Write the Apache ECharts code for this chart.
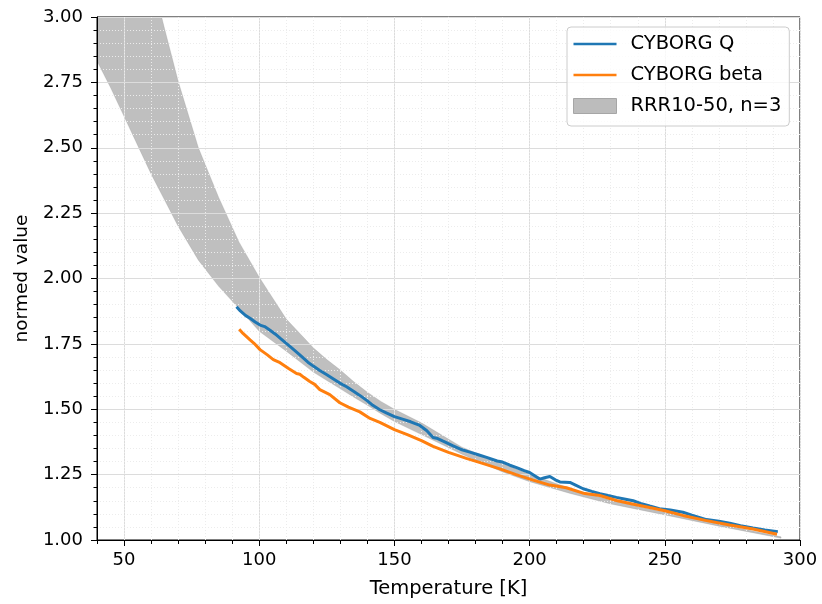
<!DOCTYPE html>
<html>
<head>
<meta charset="utf-8">
<script src="https://cdn.jsdelivr.net/npm/echarts@6.0.0/dist/echarts.min.js"></script>
<style>
  html, body { margin: 0; padding: 0; background: #fff; }
  #chart { width: 822px; height: 604px; }
</style>
</head>
<body>
<div id="chart"></div>
<script>
// CYBORG Q measurement (temperature in K, normed value)
var qT = [91.6, 93, 95, 96.6, 98.5, 100.3, 102, 104, 106, 107.7,
          110, 112, 115, 118, 120, 122.4, 125, 127.6, 129.8, 132.3,
          135, 137.2, 140, 142, 144.6, 147, 150, 153, 156, 159.4,
          162, 164.3, 166, 168, 171.7, 175, 177.9, 181, 184.1, 188,
          190, 192.7, 195.2, 198, 200, 202, 203.8, 205.5, 207.5, 209.5,
          211.2, 214.9, 217, 219.8, 223, 226, 229, 232.1, 235, 238.3,
          241, 244.4, 248, 252, 256.7, 260, 265.4, 270, 274, 278,
          282.6, 287, 291.8];
var qV = [1.892, 1.876, 1.858, 1.848, 1.834, 1.822, 1.816, 1.802, 1.787, 1.772,
          1.752, 1.735, 1.708, 1.68, 1.665, 1.648, 1.632, 1.615, 1.6, 1.586,
          1.568, 1.553, 1.532, 1.515, 1.498, 1.486, 1.472, 1.462, 1.452, 1.438,
          1.418, 1.392, 1.388, 1.378, 1.36, 1.345, 1.336, 1.326, 1.316, 1.302,
          1.298, 1.286, 1.277, 1.265, 1.258, 1.245, 1.233, 1.238, 1.243, 1.23,
          1.222, 1.22, 1.21, 1.196, 1.186, 1.177, 1.17, 1.163, 1.157, 1.15,
          1.14, 1.13, 1.12, 1.115, 1.106, 1.095, 1.078, 1.072, 1.064, 1.055,
          1.046, 1.038, 1.032];

// CYBORG beta measurement
var bT = [92.6, 94, 96.6, 98.5, 100.3, 103, 105.2, 107.7, 111, 113.8,
          115, 116.5, 118.7, 120.5, 122.4, 126.1, 129.8, 133, 137.2, 141,
          144.6, 150, 155, 160, 164.3, 170, 176.6, 182, 189, 195,
          201.3, 207.5, 213.6, 219.8, 226, 232.1, 238, 244.4, 250, 256.7,
          265, 274, 282.6, 291.5];
var bV = [1.806, 1.79, 1.765, 1.748, 1.728, 1.708, 1.69, 1.678, 1.655, 1.637,
          1.634, 1.622, 1.606, 1.595, 1.575, 1.556, 1.525, 1.508, 1.49, 1.465,
          1.45, 1.422, 1.402, 1.38, 1.358, 1.335, 1.312, 1.295, 1.272, 1.25,
          1.229, 1.21, 1.2, 1.179, 1.17, 1.151, 1.138, 1.124, 1.112, 1.094,
          1.075, 1.057, 1.042, 1.022];

// RRR10-50 band, lower and upper edge
var bandT = [40, 45, 50, 55, 60, 65, 70, 77.5, 85, 92.5,
             100, 110, 120, 125, 130, 135, 140, 145, 150, 160,
             175, 190, 200, 215, 230, 250, 270, 293];
var bandLow = [2.832, 2.73, 2.62, 2.51, 2.40, 2.30, 2.20, 2.07, 1.97, 1.885,
               1.798, 1.722, 1.642, 1.61, 1.578, 1.546, 1.515, 1.483, 1.453, 1.403,
               1.328, 1.26, 1.223, 1.178, 1.138, 1.096, 1.053, 1.007];
var bandHigh = [4.30, 3.95, 3.65, 3.38, 3.16, 2.955, 2.755, 2.5, 2.31, 2.14,
                2.005, 1.845, 1.735, 1.69, 1.65, 1.605, 1.565, 1.53, 1.50, 1.448,
                1.355, 1.292, 1.252, 1.197, 1.152, 1.106, 1.061, 1.012];

// tick labels
var xTicks = [50, 100, 150, 200, 250, 300];

function zip(a, b) {
    var out = [];
    for (var i = 0; i < a.length; i++) {
        out.push([a[i], b[i]]);
    }
    return out;
}

var bandData = [];
for (var i = 0; i < bandT.length; i++) {
    bandData.push([bandT[i], bandLow[i], bandHigh[i]]);
}

// draw the whole band as one polygon, clipped to the plot area
function renderBand(params, api) {
    if (params.dataIndex !== 0) return;
    var pts = [];
    for (var i = 0; i < bandT.length; i++) {
        pts.push(api.coord([bandT[i], bandHigh[i]]));
    }
    for (var j = bandT.length - 1; j >= 0; j--) {
        pts.push(api.coord([bandT[j], bandLow[j]]));
    }
    var cs = params.coordSys;
    return {
        type: 'group',
        clipPath: { type: 'rect', shape: { x: cs.x, y: cs.y, width: cs.width, height: cs.height } },
        children: [{
            type: 'polygon',
            shape: { points: pts },
            style: { fill: 'rgba(128,128,128,0.5)', stroke: 'rgba(128,128,128,0.2)', lineWidth: 1 }
        }]
    };
}

var font = 'DejaVu Sans';
var myChart = echarts.init(document.getElementById('chart'));

var option = {
    backgroundColor: '#fff',
    animation: false,
    textStyle: { fontFamily: font },
    grid: {
        left: 97, right: 22, top: 17, bottom: 64,
        show: true, borderColor: '#000', borderWidth: 1,
        backgroundColor: 'transparent'
    },
    legend: {
        orient: 'vertical',
        left: 567,
        top: 27,
        padding: [7, 8, 10, 6],
        itemWidth: 43,
        itemHeight: 15,
        itemGap: 11,
        backgroundColor: 'rgba(255,255,255,0.8)',
        borderColor: '#cccccc',
        borderWidth: 1,
        borderRadius: 4,
        textStyle: { fontSize: 19.5, color: '#000', fontFamily: font, padding: [0, 0, 0, 9] },
        data: [
            { name: 'CYBORG Q', icon: 'path://M0,0H43V2.5H0Z', itemStyle: { color: '#1f77b4' } },
            { name: 'CYBORG beta', icon: 'path://M0,0H43V2.5H0Z', itemStyle: { color: '#ff7f0e' } },
            { name: 'RRR10-50, n=3', icon: 'rect',
              itemStyle: { color: '#bcbcbc', borderColor: '#a6a6a6', borderWidth: 1 } }
        ]
    },
    xAxis: [
        {
            type: 'value',
            position: 'bottom',
            min: 40, max: 300, interval: 10,
            name: 'Temperature [K]',
            nameLocation: 'middle',
            nameGap: 39,
            nameTextStyle: { fontSize: 19.5, color: '#000', fontFamily: font },
            axisLine: { show: true, lineStyle: { color: '#000', width: 1 } },
            axisTick: { show: true, length: 6, customValues: xTicks, lineStyle: { color: '#000' } },
            axisLabel: { customValues: xTicks, fontSize: 18, color: '#000', margin: 11, fontFamily: font },
            splitLine: { show: true, lineStyle: { color: '#dcdcdc', width: 1 } }
        },
        {
            type: 'value',
            position: 'bottom',
            min: 40, max: 300, interval: 10,
            axisLine: { show: false },
            axisTick: { show: true, length: 4, lineStyle: { color: '#000' } },
            axisLabel: { show: false },
            splitLine: { show: true, lineStyle: { color: '#ececec', width: 1, type: [1, 2] } }
        }
    ],
    yAxis: {
        type: 'value',
        min: 1, max: 3, interval: 0.25,
        name: 'normed value',
        nameLocation: 'middle',
        nameGap: 65,
        nameTextStyle: { fontSize: 18.5, color: '#000', fontFamily: font },
        axisLine: { show: true, lineStyle: { color: '#000', width: 1 } },
        axisTick: { show: true, length: 6, lineStyle: { color: '#000' } },
        axisLabel: {
            fontSize: 18, color: '#000', margin: 14, fontFamily: font,
            formatter: function (v) { return v.toFixed(2); }
        },
        minorTick: { show: true, splitNumber: 5, length: 3.5, lineStyle: { color: '#000' } },
        splitLine: { show: true, lineStyle: { color: '#dcdcdc', width: 1 } },
        minorSplitLine: { show: true, lineStyle: { color: '#ececec', width: 1, type: [1, 2] } }
    },
    series: [
        {
            name: 'RRR10-50, n=3',
            type: 'custom',
            z: -1,
            silent: true,
            renderItem: renderBand,
            encode: { x: 0, y: [1, 2] },
            itemStyle: { color: '#bcbcbc' },
            data: bandData
        },
        {
            name: 'CYBORG Q',
            type: 'line',
            data: zip(qT, qV),
            symbol: 'none',
            itemStyle: { color: '#1f77b4' },
            lineStyle: { color: '#1f77b4', width: 3 }
        },
        {
            name: 'CYBORG beta',
            type: 'line',
            data: zip(bT, bV),
            symbol: 'none',
            itemStyle: { color: '#ff7f0e' },
            lineStyle: { color: '#ff7f0e', width: 3 }
        }
    ]
};

myChart.setOption(option);
</script>
</body>
</html>
